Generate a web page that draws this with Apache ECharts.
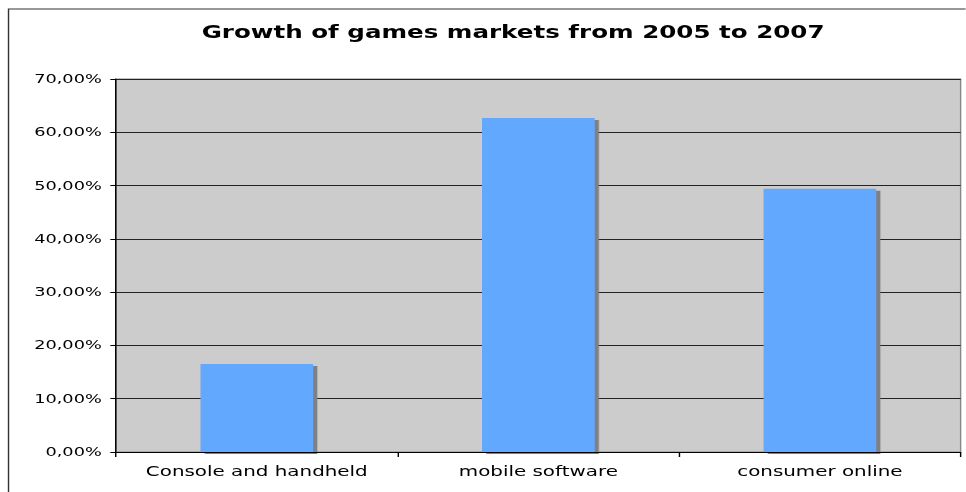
<!DOCTYPE html>
<html>
<head>
<meta charset="utf-8">
<script src="https://cdn.jsdelivr.net/npm/echarts@6/dist/echarts.min.js"></script>
<style>
  html, body { margin: 0; padding: 0; background: #fff; overflow: hidden; }
  /* the reference is stretched sideways, so draw narrow and widen it */
  #chart { width: 680px; height: 492px; transform: scaleX(1.42); transform-origin: 0 0; }
</style>
</head>
<body>
<div id="chart"></div>
<script>
const title = 'Growth of games markets from 2005 to 2007'
const categories = ['Console and handheld', 'mobile software', 'consumer online']
const growth = [16.5, 62.7, 49.4]   // percent

const chart = echarts.init(document.getElementById('chart'), null, { renderer: 'svg' })
const font = 'DejaVu Sans'

chart.setOption({
  animation: false,
  title: {
    text: title,
    left: 137, top: 18,
    textStyle: { fontFamily: font, fontWeight: 'bold', fontSize: 17.3, color: '#000' }
  },
  graphic: [{
    type: 'rect', left: 3.5, top: 6.5,
    shape: { width: 2000, height: 2000 },
    style: { fill: 'none', stroke: '#333', lineWidth: 1 },
    silent: true
  }],
  grid: {
    left: 81.7, right: 3.5, top: 79, bottom: 40,
    show: true, backgroundColor: '#cccccc', borderColor: '#888', borderWidth: 1
  },
  xAxis: {
    type: 'category',
    data: categories,
    z: 3,
    axisLine: { lineStyle: { color: '#000', width: 1 } },
    axisTick: { show: true, length: 5, lineStyle: { color: '#000' } },
    axisLabel: { interval: 0, margin: 12, fontFamily: font, fontSize: 14, color: '#000' }
  },
  yAxis: {
    type: 'value',
    min: 0, max: 70, interval: 10,
    axisLine: { show: true, lineStyle: { color: '#000', width: 1 } },
    axisTick: { show: true, length: 4, lineStyle: { color: '#000' } },
    splitLine: { lineStyle: { color: '#222', width: 1 } },
    axisLabel: {
      margin: 10, fontFamily: font, fontSize: 12.5, color: '#000',
      formatter: v => v.toFixed(2).replace('.', ',') + '%'
    }
  },
  series: [{
    type: 'bar',
    data: growth,
    barWidth: '40%',
    itemStyle: {
      color: '#63a8ff',
      shadowColor: '#808080', shadowBlur: 0, shadowOffsetX: 3, shadowOffsetY: 2
    }
  }]
})
</script>
</body>
</html>
